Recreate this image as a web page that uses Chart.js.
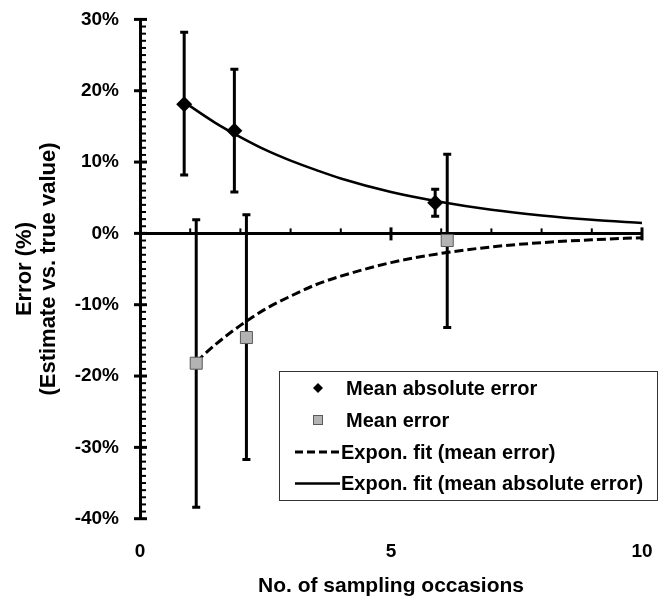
<!DOCTYPE html>
<html><head><meta charset="utf-8">
<script src="https://cdn.jsdelivr.net/npm/chart.js@4.4.1/dist/chart.umd.min.js"></script>
<style>html,body{margin:0;padding:0;background:#fff}canvas{display:block}</style>
</head><body>
<canvas id="c" width="666" height="598"></canvas>
<script>
// ---- data ----
const maeX    = [0.88, 1.88, 5.88];
const maeY    = [18.1, 14.4, 4.3];
const maeHigh = [28.2, 23.0, 6.2];
const maeLow  = [8.2, 5.8, 2.4];

const meX    = [1.12, 2.12, 6.12];
const meY    = [-18.2, -14.6, -1.0];
const meHigh = [1.9, 2.6, 11.1];
const meLow  = [-38.4, -31.7, -13.2];

const fitAbsX = [0.88, 1.5, 2, 2.5, 3, 3.5, 4, 5, 6, 7, 8, 9, 10];
const fitAbsY = [18.4, 15.5, 13.5, 11.7, 10.2, 8.9, 7.7, 5.8, 4.4, 3.3, 2.5, 1.9, 1.45];
const fitMeX  = [1.12, 1.5, 2, 2.5, 3, 3.5, 4, 5, 6, 7, 8, 9, 10];
const fitMeY  = [-18.0, -15.6, -12.9, -10.6, -8.8, -7.2, -6.0, -4.1, -2.8, -1.9, -1.3, -0.9, -0.6];

const seriesNames = ['Mean absolute error', 'Mean error', 'Expon. fit (mean error)', 'Expon. fit (mean absolute error)'];
const xTitle = 'No. of sampling occasions';
const yTitle = ['Error (%)', '(Estimate vs. true value)'];

const zip = (xs, ys) => xs.map((x, i) => ({x, y: ys[i]}));
const FONT = "'Liberation Sans', Arial, sans-serif";
const SQUARE_FILL = '#b3b3b3', SQUARE_BORDER = '#5a5a5a';
const CLEAR = 'rgba(0,0,0,0)';

const axisPlugin = {
  id: 'zeroAxis',
  beforeDatasetsDraw(chart) {
    const {ctx, chartArea: a, scales: {x, y}} = chart;
    const y0 = y.getPixelForValue(0);
    ctx.save();
    ctx.strokeStyle = '#000';
    // x axis line at y = 0
    ctx.lineWidth = 3;
    ctx.beginPath(); ctx.moveTo(a.left, y0); ctx.lineTo(x.getPixelForValue(10), y0); ctx.stroke();
    // x ticks
    for (let v = 1; v <= 10; v++) {
      const px = x.getPixelForValue(v);
      ctx.beginPath();
      if (v % 5 === 0) { ctx.lineWidth = 3; ctx.moveTo(px, y0 - 6); ctx.lineTo(px, y0 + 7); }
      else { ctx.lineWidth = 2; ctx.moveTo(px, y0); ctx.lineTo(px, y0 - 5); }
      ctx.stroke();
    }
    // y axis ticks: majors cross the axis, minors every 1% on the right
    const ax = a.left;
    for (let v = -40; v <= 30; v++) {
      const py = y.getPixelForValue(v);
      ctx.beginPath();
      if (v % 10 === 0) { ctx.lineWidth = 3; ctx.moveTo(ax - 6, py); ctx.lineTo(ax + 7, py); }
      else { ctx.lineWidth = 2; ctx.moveTo(ax, py); ctx.lineTo(ax + 6, py); }
      ctx.stroke();
    }
    // error bars
    const bars = (xs, lo, hi) => {
      xs.forEach((xv, i) => {
        const px = x.getPixelForValue(xv);
        const pl = y.getPixelForValue(lo[i]), ph = y.getPixelForValue(hi[i]);
        ctx.lineWidth = 3;
        ctx.beginPath(); ctx.moveTo(px, pl); ctx.lineTo(px, ph); ctx.stroke();
        ctx.beginPath(); ctx.moveTo(px - 4, pl); ctx.lineTo(px + 4, pl);
        ctx.moveTo(px - 4, ph); ctx.lineTo(px + 4, ph); ctx.stroke();
      });
    };
    bars(maeX, maeLow, maeHigh);
    bars(meX, meLow, meHigh);
    ctx.restore();
  }
};

const legendPlugin = {
  id: 'boxLegend',
  afterDraw(chart) {
    const {ctx} = chart;
    const L = 279, T = 371, R = 657, B = 500;
    ctx.save();
    ctx.fillStyle = '#fff';
    ctx.fillRect(L, T, R - L, B - T);
    ctx.strokeStyle = '#333';
    ctx.lineWidth = 1;
    ctx.strokeRect(L + 0.5, T + 0.5, R - L, B - T);
    const rows = [388, 420, 452, 483.5];
    ctx.font = 'bold 20px ' + FONT;
    ctx.textBaseline = 'middle';
    ctx.textAlign = 'left';
    // diamond
    ctx.fillStyle = '#000';
    ctx.beginPath(); ctx.moveTo(318, rows[0] - 5); ctx.lineTo(323, rows[0]); ctx.lineTo(318, rows[0] + 5); ctx.lineTo(313, rows[0]); ctx.closePath(); ctx.fill();
    ctx.fillText(seriesNames[0], 346, rows[0] + 1);
    // square
    ctx.fillStyle = SQUARE_FILL; ctx.strokeStyle = SQUARE_BORDER;
    ctx.fillRect(313.5, rows[1] - 4.5, 9, 9); ctx.strokeRect(313.5, rows[1] - 4.5, 9, 9);
    ctx.fillStyle = '#000';
    ctx.fillText(seriesNames[1], 346, rows[1] + 1);
    // dashed
    ctx.strokeStyle = '#000'; ctx.lineWidth = 3; ctx.setLineDash([8, 4]);
    ctx.beginPath(); ctx.moveTo(295, rows[2]); ctx.lineTo(340, rows[2]); ctx.stroke();
    ctx.setLineDash([]);
    ctx.fillText(seriesNames[2], 341, rows[2] + 1);
    // solid
    ctx.lineWidth = 2.5;
    ctx.beginPath(); ctx.moveTo(295, rows[3]); ctx.lineTo(340, rows[3]); ctx.stroke();
    ctx.fillText(seriesNames[3], 341, rows[3] + 1);
    ctx.restore();
  }
};

new Chart(document.getElementById('c'), {
  type: 'scatter',
  data: {
    datasets: [
      {label: seriesNames[0], data: zip(maeX, maeY), showLine: false, pointStyle: 'rectRot', pointRadius: 8,
       backgroundColor: '#000', borderColor: '#000', borderWidth: 0},
      {label: seriesNames[1], data: zip(meX, meY), showLine: false, pointStyle: 'rect', pointRadius: 8.5,
       backgroundColor: SQUARE_FILL, borderColor: SQUARE_BORDER, borderWidth: 1},
      {label: seriesNames[2], data: zip(fitMeX, fitMeY), showLine: true, pointRadius: 0, borderColor: '#000',
       borderWidth: 3, borderDash: [9, 4], cubicInterpolationMode: 'monotone', fill: false},
      {label: seriesNames[3], data: zip(fitAbsX, fitAbsY), showLine: true, pointRadius: 0, borderColor: '#000',
       borderWidth: 2.5, cubicInterpolationMode: 'monotone', fill: false}
    ]
  },
  options: {
    responsive: false,
    animation: false,
    devicePixelRatio: 1,
    layout: {padding: {top: 19.3, right: 24, bottom: 0, left: 0}},
    plugins: {legend: {display: false}, tooltip: {enabled: false}},
    scales: {
      x: {
        type: 'linear', min: 0, max: 10,
        afterFit(s) { s.height = 79.3; },
        border: {display: false},
        grid: {display: true, drawOnChartArea: false, drawTicks: true, tickLength: 13, color: CLEAR},
        ticks: {stepSize: 5, padding: 9, color: '#000', font: {family: FONT, size: 19, weight: 'bold'}},
        title: {display: true, text: xTitle, color: '#000', padding: {top: 0, bottom: 0},
                font: {family: FONT, size: 21, weight: 'bold', lineHeight: 1.1}}
      },
      y: {
        min: -40, max: 30,
        afterFit(s) { s.width = 140; },
        border: {display: true, color: '#000', width: 3},
        grid: {display: true, drawOnChartArea: false, drawTicks: true, tickLength: 13, color: CLEAR},
        ticks: {stepSize: 10, padding: 8, color: '#000', callback: v => v + '%',
                font: {family: FONT, size: 19, weight: 'bold'}},
        title: {display: true, text: yTitle, color: '#000', padding: {top: 13, bottom: 0},
                font: {family: FONT, size: 22, weight: 'bold', lineHeight: 1.1}}
      }
    }
  },
  plugins: [axisPlugin, legendPlugin]
});
</script>
</body></html>
